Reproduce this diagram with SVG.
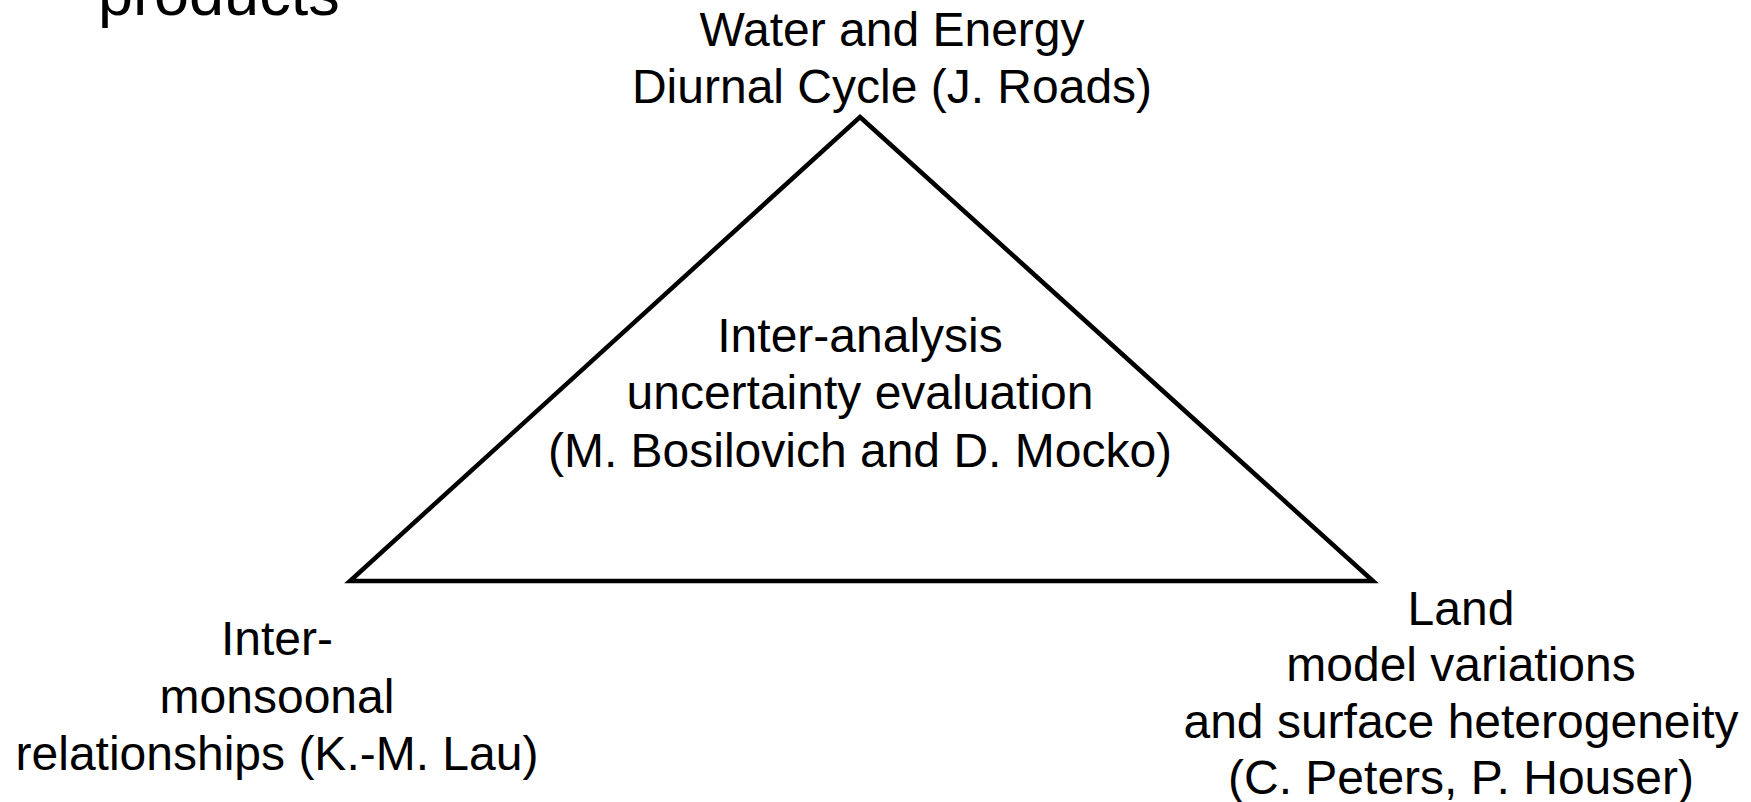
<svg xmlns="http://www.w3.org/2000/svg" width="1751" height="802" viewBox="0 0 1751 802">
<style>
text{font-family:"Liberation Sans",Arial,sans-serif;font-size:48px;fill:#000;text-anchor:middle}
.edge{fill:none;stroke:#000;stroke-width:4.5;stroke-linejoin:miter}
</style>
<rect width="1751" height="802" fill="#fff"/>
<g id="title"><text x="98" y="15" style="text-anchor:start;font-size:63px">products</text></g>
<g id="connectors">
<polygon class="edge" points="860,117 1373,581 350,581"/>
</g>
<g id="node-top">
<text x="892" y="46">Water and Energy</text>
<text x="892" y="103">Diurnal Cycle (J. Roads)</text>
</g>
<g id="node-center">
<text x="860" y="352">Inter-analysis</text>
<text x="860" y="409">uncertainty evaluation</text>
<text x="860" y="467">(M. Bosilovich and D. Mocko)</text>
</g>
<g id="node-left">
<text x="277" y="655">Inter-</text>
<text x="277" y="713">monsoonal</text>
<text x="277" y="770">relationships (K.-M. Lau)</text>
</g>
<g id="node-right">
<text x="1461" y="625">Land</text>
<text x="1461" y="681">model variations</text>
<text x="1461" y="738">and surface heterogeneity</text>
<text x="1461" y="794">(C. Peters, P. Houser)</text>
</g>
</svg>
